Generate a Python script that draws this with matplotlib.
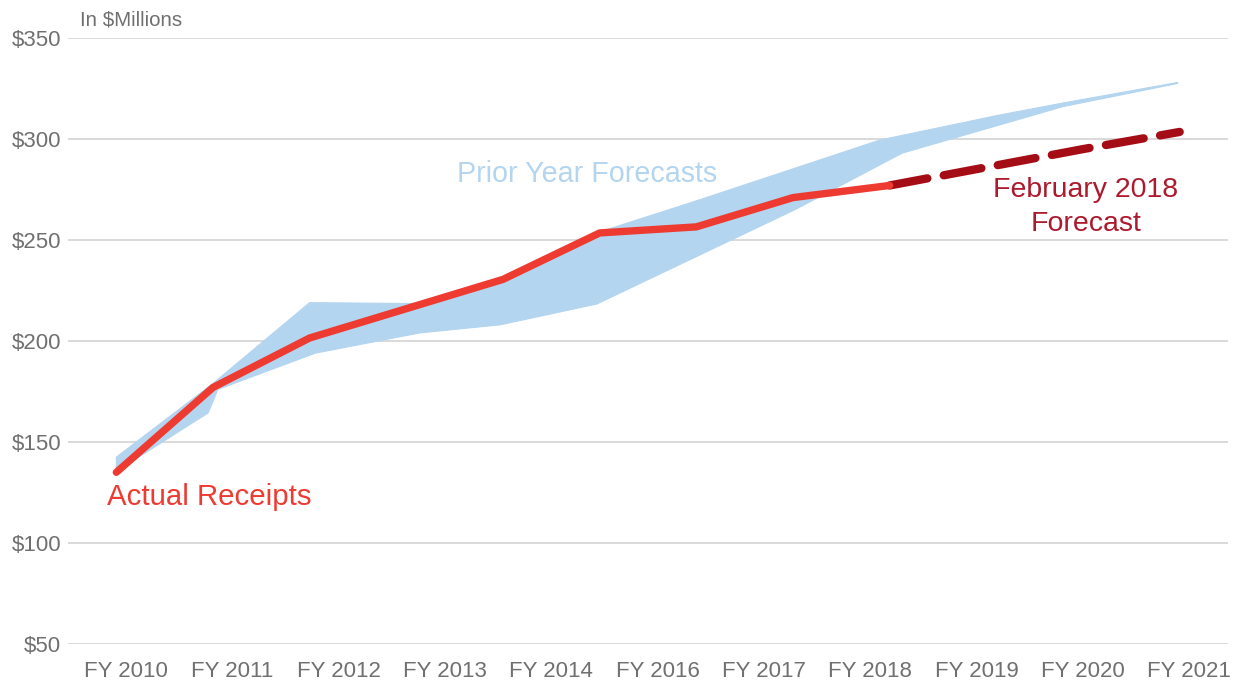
import numpy as np
import matplotlib.pyplot as plt

plt.rcParams['font.family'] = ['Liberation Sans', 'DejaVu Sans']

# Datos (en millones de dólares), eje x = índice de año fiscal (0 = FY 2010)
anios_reales = [0, 1, 2, 3, 4, 5, 6, 7, 8]
recibos_reales = [135, 177, 201.5, 216, 230.5, 253.5, 256.5, 271, 277]

anios_pronostico = [8, 9, 10, 11]
pronostico_feb2018 = [277, 286, 295, 303.5]

# Banda de pronósticos de años anteriores (borde superior e inferior)
banda_sup_x = [0, 1, 2, 3.14, 4, 5, 6.04, 7.9, 9.14, 9.79, 10.98]
banda_sup_y = [142.5, 179, 219, 218.5, 231.5, 254, 270, 299.5, 311.9, 317.8, 328]
banda_inf_x = [0, 0.95, 1.05, 2.06, 2.6, 3.14, 3.97, 4.97, 7.02, 8.13, 9.14, 9.79, 10.98]
banda_inf_y = [135.5, 164.4, 176, 194, 199, 204, 208, 218.3, 265, 293, 307, 316, 327.5]

etiquetas_x = ['FY 2010', 'FY 2011', 'FY 2012', 'FY 2013', 'FY 2014', 'FY 2016',
               'FY 2017', 'FY 2018', 'FY 2019', 'FY 2020', 'FY 2021']
valores_y = [50, 100, 150, 200, 250, 300, 350]

gris = '#707070'
azul = '#B4D5EF'
rojo = '#EE3B32'
rojo_oscuro = '#A50D16'

fig = plt.figure(figsize=(12.37, 6.86), dpi=100)
ax = fig.add_axes([68 / 1237, 1 - 644 / 686, (1228 - 68) / 1237, (644 - 38) / 686])

# Banda azul como polígono
poly_x = banda_sup_x + banda_inf_x[::-1]
poly_y = banda_sup_y + banda_inf_y[::-1]
ax.fill(poly_x, poly_y, color=azul, lw=0.8, ec=azul, zorder=2)

# Recibos reales
ax.plot(anios_reales, recibos_reales, color=rojo, lw=5.3, solid_capstyle='round',
        solid_joinstyle='round', zorder=4)

# Pronóstico febrero 2018
linea, = ax.plot(anios_pronostico, pronostico_feb2018, color=rojo_oscuro, lw=6,
                 zorder=3)
linea.set_dashes((4.6, 2.0))
linea.set_dash_capstyle('round')

ax.set_xlim(-0.5, 11.5)
ax.set_ylim(50, 350)
ax.set_yticks(valores_y)
ax.set_yticklabels([f'${v}' for v in valores_y])
ax.set_xticks(np.linspace(0.1, 11.1, len(etiquetas_x)))
ax.set_xticklabels(etiquetas_x)
ax.tick_params(axis='both', length=0, colors=gris, labelsize=16)
ax.tick_params(axis='y', pad=5)
ax.tick_params(axis='x', pad=12)
ax.grid(axis='y', color='#D9D9D9', lw=1.4, zorder=0)
ax.set_axisbelow(True)
for s in ax.spines.values():
    s.set_visible(False)

# Textos
fig.text(80 / 1237, 1 - 20 / 686, 'In $Millions', color=gris, fontsize=14.8, va='center', ha='left')
ax.text(0.96, 122.8, 'Actual Receipts', color=rojo, fontsize=21.2, ha='center', va='center')
ax.text(4.87, 282.7, 'Prior Year Forecasts', color=azul, fontsize=20.6, ha='center', va='center')
ax.text(10.03, 266.3, 'February 2018\nForecast', color='#AD1A2E', fontsize=20.5,
        ha='center', va='center', linespacing=1.38)

fig.savefig('out.png', dpi=100)
